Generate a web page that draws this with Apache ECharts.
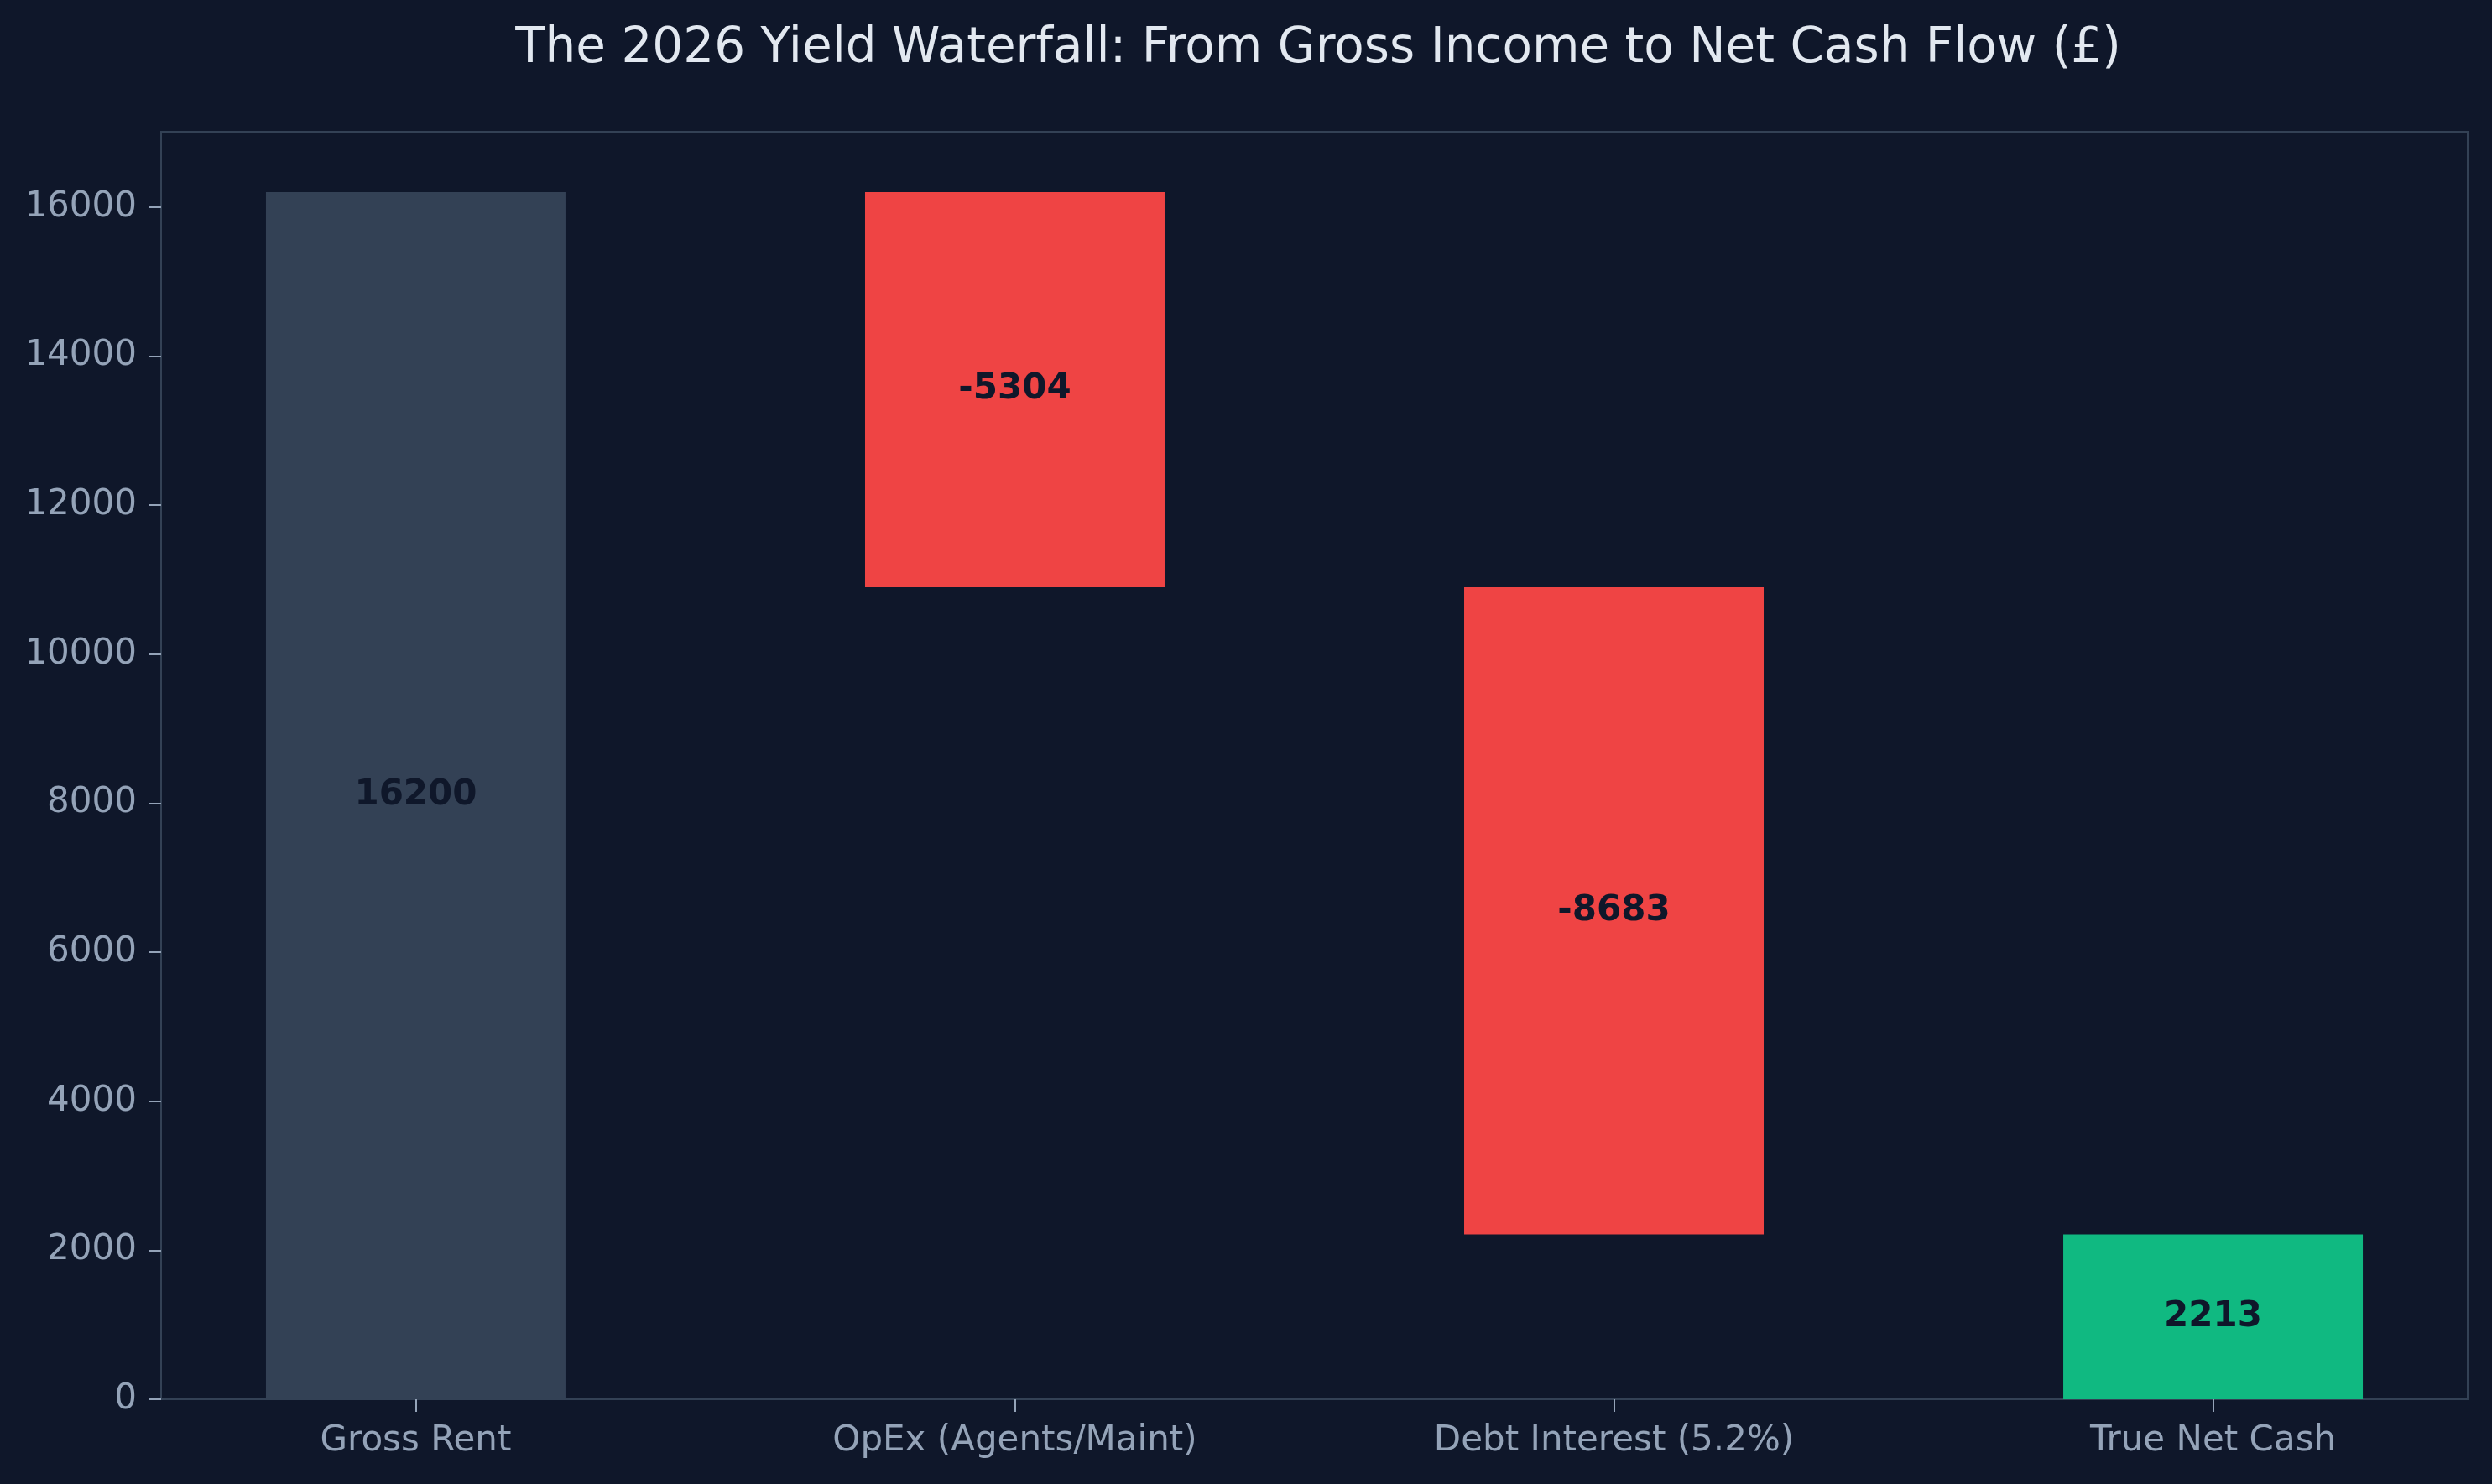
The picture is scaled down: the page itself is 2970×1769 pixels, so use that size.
<!DOCTYPE html>
<html>
<head>
<meta charset="utf-8">
<title>2026 Yield Waterfall</title>
<script src="https://cdn.jsdelivr.net/npm/echarts@6/dist/echarts.min.js"></script>
<style>
  html, body { margin: 0; padding: 0; background: #0f172a; }
  #chart { width: 2970px; height: 1769px; }
</style>
</head>
<body>
<div id="chart"></div>
<script>
// waterfall steps
var categories = ["Gross Rent", "OpEx (Agents/Maint)", "Debt Interest (5.2%)", "True Net Cash"];
var changes = [16200, -5304, -8683, 2213];
var isTotal = [true, false, false, true];
var barColors = ["#334155", "#ef4444", "#ef4444", "#10b981"];
var yTicks = [0, 2000, 4000, 6000, 8000, 10000, 12000, 14000, 16000];
var xTicks = [0, 1, 2, 3];

// rows of [x, bottom, top, change]
var rows = [];
var running = 0;
changes.forEach(function (v, i) {
  var bottom, top;
  if (isTotal[i]) {
    bottom = 0;
    top = v;
    running = v;
  } else {
    var next = running + v;
    bottom = Math.min(running, next);
    top = Math.max(running, next);
    running = next;
  }
  rows.push([i, bottom, top, v]);
});

var chart = echarts.init(document.getElementById("chart"));
var font = "DejaVu Sans";
var barWidth = 0.5;

function renderBar(params, api) {
  var x = api.value(0);
  var p0 = api.coord([x, api.value(1)]);
  var p1 = api.coord([x, api.value(2)]);
  var w = api.size([barWidth, 0])[0];
  return {
    type: "rect",
    shape: { x: p0[0] - w / 2, y: p1[1], width: w, height: p0[1] - p1[1] },
    style: { fill: barColors[params.dataIndex] },
    textContent: {
      style: {
        text: String(api.value(3)),
        fill: "#0f172a",
        fontSize: 42,
        fontWeight: "bold",
        fontFamily: font
      }
    },
    textConfig: { position: "inside" }
  };
}

chart.setOption({
  backgroundColor: "#0f172a",
  animation: false,
  title: {
    text: "The 2026 Yield Waterfall: From Gross Income to Net Cash Flow (£)",
    left: 1566,
    textAlign: "center",
    top: 25,
    textStyle: {
      color: "#e2e8f0",
      fontSize: 58,
      fontWeight: "normal",
      fontFamily: font
    }
  },
  grid: {
    left: 192,
    right: 29,
    top: 157,
    bottom: 101,
    show: true,
    borderColor: "#334155",
    borderWidth: 2,
    backgroundColor: "transparent"
  },
  xAxis: {
    type: "value",
    min: -0.425,
    max: 3.425,
    splitLine: { show: false },
    axisLine: { show: true, onZero: false, lineStyle: { color: "#334155", width: 2 } },
    axisTick: {
      show: true,
      customValues: xTicks,
      length: 15,
      lineStyle: { color: "#94a3b8", width: 2 }
    },
    axisLabel: {
      customValues: xTicks,
      margin: 29,
      color: "#94a3b8",
      fontSize: 42,
      fontFamily: font,
      formatter: function (v) {
        return categories[Math.round(v)];
      }
    }
  },
  yAxis: {
    type: "value",
    min: 0,
    max: 17010,
    splitLine: { show: false },
    axisLine: { show: true, onZero: false, lineStyle: { color: "#334155", width: 2 } },
    axisTick: {
      show: true,
      customValues: yTicks,
      length: 15,
      lineStyle: { color: "#94a3b8", width: 2 }
    },
    axisLabel: {
      customValues: yTicks,
      margin: 29,
      color: "#94a3b8",
      fontSize: 42,
      fontFamily: font,
      verticalAlign: "middle",
      padding: [6, 0, 0, 0],
      formatter: function (v) {
        return String(v);
      }
    }
  },
  series: [
    {
      name: "waterfall",
      type: "custom",
      renderItem: renderBar,
      encode: { x: 0, y: [1, 2] },
      data: rows
    }
  ]
});
</script>
</body>
</html>
